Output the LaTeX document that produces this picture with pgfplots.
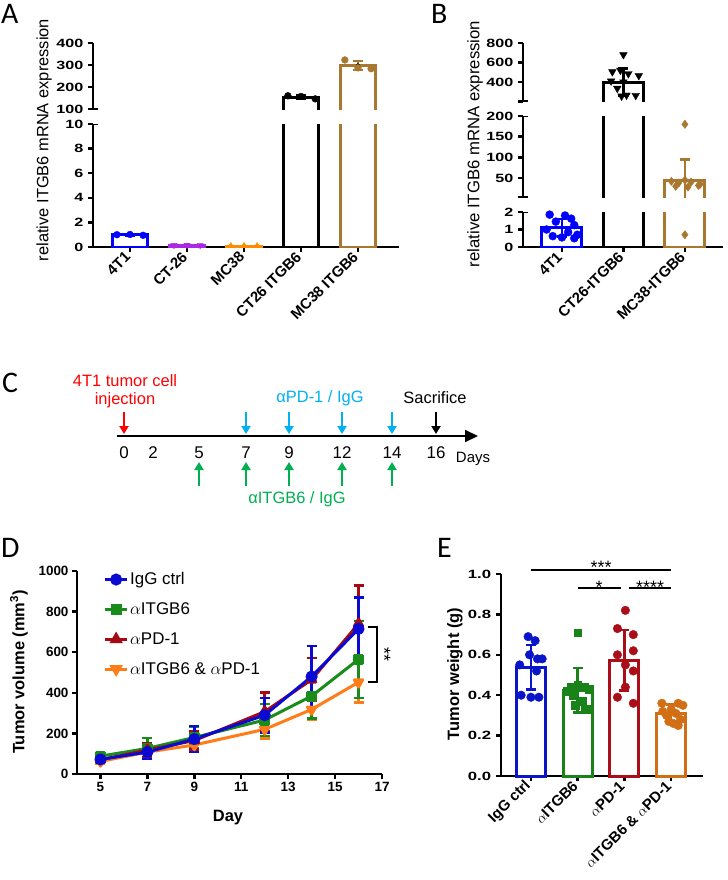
\documentclass[border=0pt]{standalone}
\usepackage{fontspec}
\setmainfont{Liberation Sans}
\newfontfamily\panelfont{Carlito}
\usepackage{pgfplots}
\pgfplotsset{compat=1.18}
\usetikzlibrary{arrows.meta}

\definecolor{aBlue}{RGB}{0,0,255}
\definecolor{aPurp}{RGB}{170,40,230}
\definecolor{aOrng}{RGB}{255,140,0}
\definecolor{brn}{RGB}{168,120,48}
\definecolor{dBlue}{RGB}{10,10,210}
\definecolor{dGreen}{RGB}{25,140,25}
\definecolor{dRed}{RGB}{165,10,20}
\definecolor{dOrng}{RGB}{255,125,25}
\definecolor{eBlue}{RGB}{10,20,200}
\definecolor{eGreen}{RGB}{25,130,25}
\definecolor{eRed}{RGB}{170,15,25}
\definecolor{eOrng}{RGB}{210,110,20}
\definecolor{cCyan}{RGB}{0,176,240}
\definecolor{cGreen}{RGB}{0,176,80}

\newcommand{\fs}[1]{\fontsize{#1}{#1}\selectfont}
\tikzset{brk/.style={line width=2.4bp}}

\pgfplotsset{
  base/.style={scale only axis, anchor=south west,
    axis line style={line width=2.4bp},
    tick style={line width=2.4bp, black},
    major tick length=5bp, tick align=outside,
    /pgf/number format/assume math mode=true,
    /pgf/number format/1000 sep={}},
  ylabAB/.style={yticklabel style={font=\bfseries\fs{12}, xscale=1.35}},
  xrot/.style={xticklabel style={font=\bfseries\fs{15}, rotate=45, anchor=east}},
  errb/.style={/pgfplots/error bars/y dir=both, /pgfplots/error bars/y explicit,
    /pgfplots/error bars/error bar style={line width=2.4bp, draw=#1, solid},
    /pgfplots/error bars/error mark options={rotate=90, mark size=5bp, line width=2.4bp, draw=#1}},
  obar/.style 2 args={ybar, bar width=#2, bar shift=0pt, fill=none, draw=#1, line width=3bp, errb=#1},
  % open bar outline (no base edge) for the broken upper segments
  sbar/.style={draw=#1, line width=3bp, mark=none},
  eonly/.style={only marks, mark=none, errb=#1},
  dots/.style={only marks, color=#1, line width=0.4bp},
  ser/.style={color=#1, line width=3bp, line join=round, mark options={solid}, errb=#1},
}

\begin{document}
\begin{tikzpicture}
\path[use as bounding box] (0,0) rectangle (728bp,-880bp);

% ---------- A ----------
\begin{axis}[base, at={(93bp,-247bp)}, width=306bp, height=123bp,
  xmin=-0.65, xmax=4.72, ymin=0, ymax=10,
  axis x line*=bottom, axis y line*=left,
  xtick={0,...,4}, xticklabels={4T1,CT-26,MC38,CT26 ITGB6,MC38 ITGB6},
  ytick={0,2,...,10}, ylabAB, xrot]
\addplot[obar={aBlue}{0.63}] coordinates {(0,0.99) +- (0,0.04)};
\addplot[obar={aPurp}{0.63}] coordinates {(1,0.12) +- (0,0.01)};
\addplot[obar={aOrng}{0.63}] coordinates {(2,0.06) +- (0,0.01)};
\addplot[ybar, bar width=0.63, bar shift=0pt, fill=none, draw=black, line width=3bp] coordinates {(3,154)};
\addplot[ybar, bar width=0.63, bar shift=0pt, fill=none, draw=brn, line width=3bp] coordinates {(4,297)};
\addplot[dots=aBlue, mark=*, mark size=3.4bp] coordinates {(-0.23,1.0) (0,1.02) (0.23,0.95)};
\addplot[dots=aPurp, mark=triangle*, mark size=3.6bp, mark options={rotate=180}] coordinates {(0.77,0.15) (1,0.16) (1.23,0.14)};
\addplot[dots=aOrng, mark=triangle*, mark size=3.4bp] coordinates {(1.77,0.1) (2,0.11) (2.23,0.1)};
\draw[brk] (axis cs:-0.65,10) -- ([xshift=5bp]axis cs:-0.65,10);
\end{axis}

\begin{axis}[base, at={(93bp,-109bp)}, width=306bp, height=66bp,
  xmin=-0.65, xmax=4.72, ymin=100, ymax=400,
  axis x line=none, axis y line*=left, xtick=\empty,
  ytick={100,200,300,400}, ylabAB]
\addplot[sbar=black] coordinates {(2.685,50) (2.685,154) (3.315,154) (3.315,50)};
\addplot[sbar=brn] coordinates {(3.685,50) (3.685,297) (4.315,297) (4.315,50)};
\addplot[eonly=black] coordinates {(3,154) +- (0,7)};
\addplot[eonly=brn] coordinates {(4,297) +- (0,20)};
\addplot[dots=black, mark=*, mark size=3.4bp] coordinates {(2.77,160) (3,157) (3.25,146)};
\addplot[dots=brn, mark=*, mark size=3.4bp] coordinates {(3.77,323) (4,287) (4.23,283)};
\draw[brk] (axis cs:-0.65,100) -- ([xshift=5bp]axis cs:-0.65,100);
\end{axis}
\node[rotate=90, font=\fs{16.5}] at (44bp,-140bp) {relative ITGB6 mRNA expression};

% ---------- B ----------
\begin{axis}[base, at={(523bp,-247bp)}, width=200bp, height=35bp,
  xmin=-0.634, xmax=2.62, ymin=0, ymax=2,
  axis x line*=bottom, axis y line*=left,
  xtick={0,1,2}, xticklabels={4T1,CT26-ITGB6,MC38-ITGB6},
  ytick={0,1,2}, ylabAB, xrot]
\addplot[obar={aBlue}{0.65}] coordinates {(0,1.1) +- (0,0.5)};
\addplot[ybar, bar width=0.65, bar shift=0pt, fill=none, draw=black, line width=3bp] coordinates {(1,400)};
\addplot[ybar, bar width=0.65, bar shift=0pt, fill=none, draw=brn, line width=3bp] coordinates {(2,45)};
\addplot[dots=aBlue, mark=*, mark size=4bp] coordinates {(-0.2,1.85) (0.05,1.8) (0.15,1.62) (-0.1,1.45) (0.2,1.25) (-0.25,1.0) (0.1,0.85) (0.25,0.7) (-0.15,0.62) (0.0,0.55) (0.2,0.5)};
\addplot[dots=brn, mark=diamond*, mark size=4.2bp] coordinates {(2.0,0.7)};
\draw[brk] (axis cs:-0.634,2) -- ([xshift=5bp]axis cs:-0.634,2);
\end{axis}

\begin{axis}[base, at={(523bp,-197bp)}, width=200bp, height=81bp,
  xmin=-0.634, xmax=2.62, ymin=4, ymax=200,
  axis x line=none, axis y line*=left, xtick=\empty,
  ytick={4,50,100,150,200}, yticklabels={{},50,100,150,200}, ylabAB]
\addplot[sbar=black] coordinates {(0.675,-20) (0.675,400) (1.325,400) (1.325,-20)};
\addplot[sbar=brn] coordinates {(1.675,-20) (1.675,45) (2.325,45) (2.325,-20)};
\addplot[eonly=brn] coordinates {(2,45) +- (0,50)};
\addplot[dots=brn, mark=diamond*, mark size=4.2bp] coordinates {(2.0,180) (1.78,42) (1.9,38) (2.0,45) (2.1,40) (2.22,32) (1.85,30) (2.05,28) (2.25,35)};
\draw[brk] (axis cs:-0.634,4) -- ([xshift=5bp]axis cs:-0.634,4);
\draw[brk] (axis cs:-0.634,200) -- ([xshift=5bp]axis cs:-0.634,200);
\end{axis}

\begin{axis}[base, at={(523bp,-101.5bp)}, width=200bp, height=58.5bp,
  xmin=-0.634, xmax=2.62, ymin=200, ymax=800,
  axis x line=none, axis y line*=left, xtick=\empty,
  ytick={200,400,600,800}, yticklabels={{},400,600,800}, ylabAB]
\addplot[sbar=black] coordinates {(0.675,100) (0.675,400) (1.325,400) (1.325,100)};
\addplot[eonly=black] coordinates {(1,400) +- (0,140)};
\addplot[dots=black, mark=triangle*, mark size=4.4bp, mark options={rotate=180}] coordinates {(1.0,680) (0.82,505) (0.95,520) (1.08,485) (1.25,465) (0.8,410) (1.0,400) (0.9,335) (1.05,265) (1.2,262) (0.97,255)};
\draw[brk] (axis cs:-0.634,200) -- ([xshift=5bp]axis cs:-0.634,200);
\end{axis}
\node[rotate=90, font=\fs{16.8}] at (475bp,-144bp) {relative ITGB6 mRNA expression};

% ---------- D ----------
\begin{axis}[base, at={(77bp,-774bp)}, width=305bp, height=203bp,
  xmin=4, xmax=17, ymin=0, ymax=1000,
  axis x line*=bottom, axis y line*=left,
  xtick={5,7,...,17}, ytick={0,200,...,1000},
  ticklabel style={font=\bfseries\fs{13.5}}, clip=false,
  legend style={at={(axis cs:5.0,1010)}, anchor=north west, draw=none, fill=none,
    font=\fs{17}, row sep=13.5bp, nodes={inner sep=1.5bp}},
  legend cell align=left,
  legend image code/.code={\draw[mark repeat=2,mark phase=2,#1] plot coordinates {(0bp,0bp)(11bp,0bp)(22bp,0bp)};}]
\addlegendimage{color=dBlue, line width=3bp, mark=*, mark size=4.5bp}
\addlegendentry{IgG ctrl}
\addlegendimage{color=dGreen, line width=3bp, mark=square*, mark size=4bp}
\addlegendentry{$\alpha$ITGB6}
\addlegendimage{color=dRed, line width=3bp, mark=triangle*, mark size=4.8bp}
\addlegendentry{$\alpha$PD-1}
\addlegendimage{color=dOrng, line width=3bp, mark=triangle*, mark size=4.8bp, mark options={rotate=180}}
\addlegendentry{$\alpha$ITGB6 \& $\alpha$PD-1}
\addplot[ser=dOrng, mark=triangle*, mark size=4.8bp, mark options={rotate=180}, forget plot] coordinates {(5,62) +- (0,10) (7,108) +- (0,30) (9,143) +- (0,35) (12,220) +- (0,45) (14,318) +- (0,50) (16,452) +- (0,100)};
\addplot[ser=dGreen, mark=square*, mark size=4bp, forget plot] coordinates {(5,88) +- (0,10) (7,126) +- (0,50) (9,180) +- (0,55) (12,266) +- (0,80) (14,384) +- (0,110) (16,565) +- (0,190)};
\addplot[ser=dRed, mark=triangle*, mark size=4.8bp, forget plot] coordinates {(5,70) +- (0,12) (7,118) +- (0,35) (9,165) +- (0,45) (12,307) +- (0,95) (14,465) +- (0,105) (16,740) +- (0,188)};
\addplot[ser=dBlue, mark=*, mark size=4.5bp, forget plot] coordinates {(5,72) +- (0,10) (7,108) +- (0,33) (9,172) +- (0,65) (12,290) +- (0,85) (14,480) +- (0,150) (16,715) +- (0,155)};
\draw[line width=2bp] (axis cs:16.41,724) -- (axis cs:16.79,724) -- (axis cs:16.79,453) -- (axis cs:16.41,453);
\node[rotate=-90, font=\fs{18}] at (axis cs:17.1,588) {**};
\end{axis}
\node[rotate=90, font=\bfseries\fs{16.5}] at (19bp,-672bp) {Tumor volume (mm\textsuperscript{3})};
\node[font=\bfseries\fs{16.5}] at (228bp,-818bp) {Day};

% ---------- E ----------
\begin{axis}[base, at={(501bp,-776bp)}, width=202bp, height=202bp,
  xmin=-0.64, xmax=3.68, ymin=0, ymax=1,
  axis x line*=bottom, axis y line*=left,
  xtick={0,...,3}, xticklabels={IgG ctrl,$\alpha$ITGB6,$\alpha$PD-1,$\alpha$ITGB6 \& $\alpha$PD-1},
  ytick={0,0.2,0.4,0.6,0.8,1.0},
  yticklabel style={/pgf/number format/fixed, /pgf/number format/fixed zerofill,
    /pgf/number format/precision=1, font=\bfseries\fs{12}, xscale=1.4},
  xrot, clip=false]
\addplot[obar={eBlue}{0.62}] coordinates {(0,0.538) +- (0,0.11)};
\addplot[obar={eGreen}{0.62}] coordinates {(1,0.424) +- (0,0.11)};
\addplot[obar={eRed}{0.62}] coordinates {(2,0.573) +- (0,0.15)};
\addplot[obar={eOrng}{0.62}] coordinates {(3,0.31) +- (0,0.045)};
\addplot[dots=eBlue, mark=*, mark size=4.3bp] coordinates {(-0.06,0.69) (0.09,0.67) (-0.03,0.60) (0.24,0.58) (0.14,0.58) (-0.24,0.55) (0.12,0.52) (-0.21,0.40) (0.0,0.39) (0.17,0.39)};
\addplot[dots=eGreen, mark=square*, mark size=3.8bp] coordinates {(1.0,0.71) (0.85,0.44) (1.0,0.45) (1.15,0.44) (1.25,0.43) (0.78,0.42) (0.9,0.40) (1.1,0.37) (0.95,0.35) (1.15,0.33) (1.25,0.33)};
\addplot[dots=eRed, mark=*, mark size=4.3bp] coordinates {(2.02,0.82) (1.85,0.73) (2.19,0.70) (2.19,0.62) (1.85,0.60) (2.02,0.55) (2.19,0.52) (2.02,0.44) (1.85,0.39) (2.19,0.36)};
\addplot[dots=eOrng, mark=*, mark size=4.3bp] coordinates {(2.8,0.36) (3.15,0.36) (3.25,0.35) (3.0,0.33) (2.82,0.32) (3.1,0.31) (2.9,0.30) (3.2,0.28) (2.95,0.27) (3.05,0.26) (3.15,0.25)};
\draw[line width=1.5bp] (axis cs:0,1.02) -- (axis cs:3,1.02);
\draw[line width=1.5bp] (axis cs:1,0.93) -- (axis cs:1.92,0.93);
\draw[line width=1.5bp] (axis cs:2.1,0.93) -- (axis cs:3,0.93);
\node[anchor=base, font=\fs{18}, inner sep=0] at (axis cs:1.5,1.003) {***};
\node[anchor=base, font=\fs{18}, inner sep=0] at (axis cs:1.46,0.904) {*};
\node[anchor=base, font=\fs{18}, inner sep=0] at (axis cs:2.55,0.904) {****};
\end{axis}
\node[rotate=90, font=\bfseries\fs{16.5}] at (455bp,-674bp) {Tumor weight (g)};

% ---------- C (timeline, canvas pixel coordinates) ----------
\begin{axis}[scale only axis, at={(0bp,0bp)}, anchor=north west, width=728bp, height=880bp,
  xmin=0, xmax=728, ymin=0, ymax=880, y dir=reverse, hide axis, clip=false]
\addplot[black, line width=2bp, -{Triangle[length=13bp,width=12bp]}] coordinates {(117,436) (478,436)};
\addplot[red, line width=2bp, -{Triangle[length=8bp,width=9bp]}] coordinates {(124,412) (124,434)};
\addplot[cCyan, line width=2bp, -{Triangle[length=8bp,width=9bp]}] coordinates {(246,412) (246,434)};
\addplot[cCyan, line width=2bp, -{Triangle[length=8bp,width=9bp]}] coordinates {(289,412) (289,434)};
\addplot[cCyan, line width=2bp, -{Triangle[length=8bp,width=9bp]}] coordinates {(342,412) (342,434)};
\addplot[cCyan, line width=2bp, -{Triangle[length=8bp,width=9bp]}] coordinates {(392,412) (392,434)};
\addplot[black, line width=2bp, -{Triangle[length=8bp,width=9bp]}] coordinates {(436,412) (436,434)};
\addplot[cGreen, line width=2bp, -{Triangle[length=8bp,width=9bp]}] coordinates {(199,486) (199,462)};
\addplot[cGreen, line width=2bp, -{Triangle[length=8bp,width=9bp]}] coordinates {(246,486) (246,462)};
\addplot[cGreen, line width=2bp, -{Triangle[length=8bp,width=9bp]}] coordinates {(289,486) (289,462)};
\addplot[cGreen, line width=2bp, -{Triangle[length=8bp,width=9bp]}] coordinates {(342,486) (342,462)};
\addplot[cGreen, line width=2bp, -{Triangle[length=8bp,width=9bp]}] coordinates {(392,486) (392,462)};
\node[red, font=\fs{16.5}] at (axis cs:125,381) {4T1 tumor cell};
\node[red, font=\fs{16.5}] at (axis cs:125,400) {injection};
\node[cCyan, font=\fs{16.5}] at (axis cs:320,398) {αPD-1 / IgG};
\node[font=\fs{16.5}] at (axis cs:435,398) {Sacrifice};
\node[cGreen, font=\fs{16.5}] at (axis cs:297,499) {αITGB6 / IgG};
\node[font=\fs{17}] at (axis cs:124,453) {0};
\node[font=\fs{17}] at (axis cs:153,453) {2};
\node[font=\fs{17}] at (axis cs:199,453) {5};
\node[font=\fs{17}] at (axis cs:246,453) {7};
\node[font=\fs{17}] at (axis cs:289,453) {9};
\node[font=\fs{17}] at (axis cs:342,453) {12};
\node[font=\fs{17}] at (axis cs:392,453) {14};
\node[font=\fs{17}] at (axis cs:436,453) {16};
\node[font=\fs{15}] at (axis cs:473,459) {Days};
\end{axis}

% panel letters
\node[anchor=base west, font=\panelfont\fs{30}, inner sep=0] at (1bp,-23bp) {A};
\node[anchor=base west, font=\panelfont\fs{30}, inner sep=0] at (431bp,-23bp) {B};
\node[anchor=base west, font=\panelfont\fs{30}, inner sep=0] at (2bp,-392bp) {C};
\node[anchor=base west, font=\panelfont\fs{30}, inner sep=0] at (1bp,-557bp) {D};
\node[anchor=base west, font=\panelfont\fs{30}, inner sep=0] at (437bp,-557bp) {E};
\end{tikzpicture}
\end{document}
